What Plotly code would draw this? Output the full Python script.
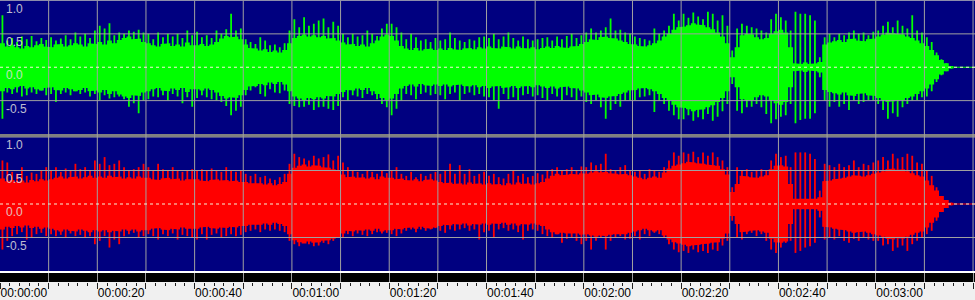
import plotly.graph_objects as go

# ---------------- data ----------------
# time axis (seconds) and its labels
tick_seconds = [0, 10, 20, 30, 40, 50, 60, 70, 80, 90, 100, 110, 120, 130, 140, 150, 160, 170, 180, 190, 200]
tick_labels = ["00:00:00", "", "00:00:20", "", "00:00:40", "", "00:01:00", "", "00:01:20", "",
               "00:01:40", "", "00:02:00", "", "00:02:20", "", "00:02:40", "", "00:03:00", "", ""]
x_end_s = 200.4
amp_tick_values = [1.0, 0.5, 0.0, -0.5]
amp_tick_labels = ["1.0", "0.5", "0.0", "-0.5"]

# dense "body" amplitude of each channel, per second (0..195 s)
green_body = [
    0.36, 0.31, 0.33, 0.30, 0.28, 0.32, 0.30, 0.33, 0.35, 0.31,
    0.30, 0.34, 0.35, 0.31, 0.33, 0.36, 0.34, 0.31, 0.36, 0.35,
    0.38, 0.34, 0.40, 0.36, 0.41, 0.44, 0.46, 0.42, 0.43, 0.38,
    0.36, 0.33, 0.31, 0.35, 0.36, 0.32, 0.34, 0.31, 0.37, 0.33,
    0.33, 0.35, 0.32, 0.34, 0.38, 0.43, 0.47, 0.45, 0.46, 0.42,
    0.34, 0.29, 0.28, 0.25, 0.27, 0.23, 0.25, 0.22, 0.26, 0.36,
    0.44, 0.47, 0.49, 0.46, 0.48, 0.45, 0.47, 0.43, 0.44, 0.40,
    0.37, 0.34, 0.35, 0.32, 0.34, 0.31, 0.36, 0.40, 0.46, 0.49,
    0.47, 0.40, 0.32, 0.28, 0.26, 0.29, 0.25, 0.27, 0.28, 0.26,
    0.28, 0.26, 0.29, 0.27, 0.26, 0.28, 0.29, 0.27, 0.30, 0.28,
    0.31, 0.29, 0.28, 0.31, 0.30, 0.28, 0.31, 0.29, 0.28, 0.30,
    0.27, 0.29, 0.31, 0.29, 0.32, 0.30, 0.29, 0.31, 0.32, 0.35,
    0.38, 0.42, 0.41, 0.45, 0.46, 0.44, 0.43, 0.40, 0.38, 0.35,
    0.34, 0.32, 0.31, 0.33, 0.36, 0.40, 0.46, 0.50, 0.56, 0.60,
    0.61, 0.63, 0.66, 0.64, 0.63, 0.60, 0.57, 0.52, 0.46, 0.36,
    0.15, 0.30, 0.48, 0.50, 0.49, 0.45, 0.42, 0.44, 0.50, 0.54,
    0.56, 0.52, 0.30, 0.06, 0.05, 0.07, 0.05, 0.06, 0.08, 0.34,
    0.37, 0.39, 0.41, 0.38, 0.42, 0.43, 0.40, 0.39, 0.42, 0.43,
    0.46, 0.49, 0.52, 0.51, 0.50, 0.49, 0.46, 0.44, 0.40, 0.36,
    0.32, 0.26, 0.18, 0.11, 0.06, 0.02]
red_body = [
    0.38, 0.34, 0.36, 0.33, 0.35, 0.32, 0.36, 0.34, 0.37, 0.35,
    0.37, 0.39, 0.41, 0.38, 0.40, 0.41, 0.38, 0.40, 0.42, 0.39,
    0.41, 0.39, 0.42, 0.40, 0.41, 0.38, 0.40, 0.38, 0.41, 0.39,
    0.39, 0.37, 0.36, 0.38, 0.39, 0.37, 0.38, 0.35, 0.37, 0.38,
    0.37, 0.35, 0.34, 0.36, 0.37, 0.35, 0.36, 0.34, 0.35, 0.33,
    0.33, 0.31, 0.30, 0.31, 0.29, 0.31, 0.28, 0.30, 0.33, 0.45,
    0.54, 0.57, 0.59, 0.56, 0.58, 0.57, 0.55, 0.54, 0.52, 0.50,
    0.44, 0.40, 0.41, 0.39, 0.40, 0.38, 0.40, 0.37, 0.41, 0.39,
    0.39, 0.37, 0.38, 0.36, 0.35, 0.37, 0.34, 0.36, 0.37, 0.35,
    0.33, 0.31, 0.32, 0.30, 0.31, 0.29, 0.32, 0.30, 0.31, 0.29,
    0.31, 0.29, 0.30, 0.28, 0.31, 0.29, 0.32, 0.30, 0.31, 0.29,
    0.31, 0.33, 0.38, 0.42, 0.45, 0.43, 0.44, 0.45, 0.44, 0.46,
    0.45, 0.47, 0.49, 0.47, 0.48, 0.46, 0.45, 0.44, 0.45, 0.43,
    0.41, 0.39, 0.37, 0.39, 0.41, 0.39, 0.47, 0.53, 0.57, 0.59,
    0.61, 0.63, 0.62, 0.61, 0.60, 0.59, 0.58, 0.57, 0.52, 0.44,
    0.18, 0.30, 0.42, 0.41, 0.40, 0.39, 0.41, 0.43, 0.52, 0.57,
    0.58, 0.56, 0.30, 0.08, 0.07, 0.08, 0.07, 0.08, 0.10, 0.34,
    0.35, 0.37, 0.38, 0.39, 0.41, 0.43, 0.42, 0.41, 0.43, 0.45,
    0.47, 0.49, 0.52, 0.53, 0.51, 0.52, 0.49, 0.46, 0.43, 0.41,
    0.35, 0.28, 0.20, 0.12, 0.06, 0.02]

# per-second peaks (max / min) of each channel, seconds 0..195
green_peak_up = [
    0.78, 0.40, 0.44, 0.38, 0.46, 0.42, 0.47, 0.39, 0.44, 0.41,
    0.45, 0.40, 0.43, 0.48, 0.42, 0.52, 0.46, 0.50, 0.44, 0.55,
    0.62, 0.58, 0.66, 0.48, 0.52, 0.50, 0.55, 0.53, 0.56, 0.52,
    0.50, 0.42, 0.52, 0.45, 0.50, 0.46, 0.50, 0.44, 0.55, 0.48,
    0.53, 0.45, 0.48, 0.44, 0.55, 0.50, 0.57, 0.80, 0.55, 0.58,
    0.42, 0.38, 0.35, 0.45, 0.40, 0.33, 0.34, 0.30, 0.36, 0.55,
    0.72, 0.60, 0.75, 0.62, 0.65, 0.70, 0.73, 0.60, 0.68, 0.62,
    0.50, 0.45, 0.50, 0.46, 0.48, 0.55, 0.50, 0.47, 0.58, 0.65,
    0.65, 0.60, 0.52, 0.42, 0.50, 0.45, 0.40, 0.42, 0.38, 0.44,
    0.40, 0.42, 0.52, 0.44, 0.40, 0.38, 0.42, 0.40, 0.45, 0.46,
    0.44, 0.50, 0.42, 0.46, 0.52, 0.44, 0.40, 0.46, 0.42, 0.40,
    0.42, 0.44, 0.45, 0.40, 0.46, 0.42, 0.47, 0.50, 0.44, 0.48,
    0.52, 0.58, 0.52, 0.55, 0.60, 0.73, 0.55, 0.56, 0.52, 0.50,
    0.46, 0.44, 0.42, 0.40, 0.58, 0.50, 0.55, 0.62, 0.80, 0.70,
    0.80, 0.74, 0.82, 0.76, 0.72, 0.83, 0.80, 0.70, 0.78, 0.62,
    0.25, 0.58, 0.65, 0.62, 0.60, 0.58, 0.55, 0.52, 0.72, 0.80,
    0.75, 0.70, 0.55, 0.83, 0.80, 0.80, 0.78, 0.70, 0.15, 0.45,
    0.50, 0.45, 0.50, 0.48, 0.52, 0.55, 0.50, 0.52, 0.48, 0.53,
    0.55, 0.62, 0.68, 0.60, 0.70, 0.62, 0.58, 0.78, 0.55, 0.52,
    0.45, 0.38, 0.22, 0.12, 0.06, 0.02]
green_peak_down = [
    -0.77, -0.38, -0.40, -0.38, -0.44, -0.42, -0.38, -0.40, -0.35, -0.42,
    -0.40, -0.52, -0.40, -0.38, -0.42, -0.36, -0.40, -0.38, -0.44, -0.40,
    -0.49, -0.42, -0.47, -0.45, -0.44, -0.48, -0.59, -0.54, -0.69, -0.50,
    -0.48, -0.44, -0.45, -0.42, -0.50, -0.40, -0.44, -0.54, -0.45, -0.59,
    -0.46, -0.42, -0.45, -0.48, -0.50, -0.52, -0.58, -0.72, -0.65, -0.59,
    -0.42, -0.35, -0.30, -0.40, -0.44, -0.33, -0.38, -0.39, -0.35, -0.55,
    -0.58, -0.60, -0.59, -0.56, -0.64, -0.60, -0.59, -0.62, -0.64, -0.58,
    -0.45, -0.50, -0.42, -0.44, -0.46, -0.40, -0.42, -0.48, -0.55, -0.60,
    -0.72, -0.62, -0.50, -0.40, -0.42, -0.48, -0.40, -0.38, -0.42, -0.40,
    -0.42, -0.48, -0.40, -0.38, -0.49, -0.40, -0.38, -0.42, -0.40, -0.44,
    -0.45, -0.50, -0.62, -0.40, -0.48, -0.45, -0.49, -0.42, -0.40, -0.44,
    -0.42, -0.46, -0.49, -0.40, -0.44, -0.49, -0.42, -0.45, -0.49, -0.44,
    -0.52, -0.55, -0.50, -0.60, -0.77, -0.64, -0.55, -0.59, -0.50, -0.49,
    -0.49, -0.45, -0.44, -0.42, -0.67, -0.50, -0.55, -0.65, -0.72, -0.78,
    -0.78, -0.72, -0.80, -0.75, -0.78, -0.70, -0.80, -0.74, -0.66, -0.55,
    -0.25, -0.65, -0.69, -0.60, -0.59, -0.55, -0.60, -0.70, -0.84, -0.78,
    -0.74, -0.72, -0.55, -0.84, -0.79, -0.77, -0.77, -0.69, -0.15, -0.50,
    -0.59, -0.52, -0.59, -0.55, -0.64, -0.50, -0.55, -0.52, -0.49, -0.50,
    -0.55, -0.64, -0.77, -0.69, -0.74, -0.60, -0.55, -0.50, -0.49, -0.45,
    -0.44, -0.36, -0.22, -0.12, -0.06, -0.02]
red_peak_up = [
    0.65, 0.62, 0.48, 0.45, 0.55, 0.42, 0.47, 0.45, 0.50, 0.55,
    0.50, 0.55, 0.48, 0.53, 0.50, 0.60, 0.52, 0.55, 0.50, 0.65,
    0.60, 0.70, 0.58, 0.60, 0.65, 0.55, 0.50, 0.52, 0.55, 0.60,
    0.55, 0.50, 0.60, 0.52, 0.50, 0.55, 0.50, 0.48, 0.50, 0.52,
    0.50, 0.52, 0.50, 0.53, 0.50, 0.48, 0.55, 0.50, 0.48, 0.50,
    0.45, 0.42, 0.45, 0.40, 0.42, 0.38, 0.36, 0.40, 0.45, 0.60,
    0.75, 0.70, 0.68, 0.65, 0.72, 0.68, 0.70, 0.74, 0.65, 0.72,
    0.62, 0.55, 0.50, 0.48, 0.45, 0.50, 0.48, 0.45, 0.50, 0.46,
    0.50, 0.55, 0.45, 0.42, 0.48, 0.40, 0.45, 0.42, 0.45, 0.48,
    0.45, 0.50, 0.60, 0.45, 0.58, 0.45, 0.52, 0.42, 0.45, 0.48,
    0.42, 0.45, 0.40, 0.38, 0.45, 0.50, 0.42, 0.45, 0.40, 0.42,
    0.46, 0.44, 0.50, 0.52, 0.55, 0.50, 0.52, 0.55, 0.50, 0.56,
    0.55, 0.62, 0.58, 0.60, 0.75, 0.52, 0.50, 0.55, 0.58, 0.50,
    0.48, 0.50, 0.45, 0.52, 0.50, 0.48, 0.55, 0.65, 0.77, 0.72,
    0.77, 0.75, 0.78, 0.70, 0.77, 0.72, 0.77, 0.70, 0.65, 0.55,
    0.25, 0.55, 0.50, 0.52, 0.48, 0.50, 0.52, 0.50, 0.65, 0.75,
    0.70, 0.72, 0.55, 0.77, 0.77, 0.77, 0.75, 0.67, 0.20, 0.60,
    0.58, 0.55, 0.60, 0.55, 0.58, 0.65, 0.55, 0.60, 0.58, 0.62,
    0.65, 0.70, 0.65, 0.75, 0.68, 0.70, 0.75, 0.72, 0.62, 0.60,
    0.50, 0.42, 0.25, 0.12, 0.06, 0.02]
red_peak_down = [
    -0.68, -0.55, -0.48, -0.45, -0.42, -0.53, -0.50, -0.45, -0.43, -0.48,
    -0.45, -0.48, -0.46, -0.50, -0.44, -0.48, -0.46, -0.50, -0.48, -0.60,
    -0.55, -0.48, -0.65, -0.53, -0.60, -0.48, -0.45, -0.43, -0.50, -0.48,
    -0.45, -0.48, -0.53, -0.45, -0.48, -0.44, -0.53, -0.46, -0.48, -0.50,
    -0.53, -0.45, -0.53, -0.46, -0.44, -0.50, -0.48, -0.45, -0.48, -0.46,
    -0.42, -0.40, -0.38, -0.42, -0.38, -0.40, -0.38, -0.40, -0.42, -0.55,
    -0.60, -0.63, -0.58, -0.60, -0.63, -0.62, -0.58, -0.60, -0.55, -0.50,
    -0.50, -0.45, -0.48, -0.44, -0.46, -0.48, -0.45, -0.42, -0.44, -0.43,
    -0.45, -0.48, -0.44, -0.40, -0.38, -0.42, -0.38, -0.40, -0.38, -0.36,
    -0.40, -0.43, -0.38, -0.40, -0.38, -0.36, -0.40, -0.38, -0.53, -0.42,
    -0.40, -0.50, -0.38, -0.36, -0.40, -0.38, -0.42, -0.53, -0.40, -0.38,
    -0.40, -0.45, -0.48, -0.50, -0.45, -0.58, -0.52, -0.50, -0.55, -0.60,
    -0.55, -0.68, -0.55, -0.50, -0.68, -0.55, -0.50, -0.48, -0.53, -0.52,
    -0.48, -0.53, -0.45, -0.48, -0.43, -0.45, -0.50, -0.60, -0.68, -0.72,
    -0.70, -0.73, -0.68, -0.72, -0.70, -0.73, -0.68, -0.70, -0.62, -0.55,
    -0.25, -0.50, -0.53, -0.45, -0.43, -0.48, -0.45, -0.55, -0.68, -0.73,
    -0.65, -0.58, -0.55, -0.73, -0.70, -0.65, -0.63, -0.58, -0.20, -0.53,
    -0.50, -0.53, -0.48, -0.55, -0.58, -0.52, -0.55, -0.50, -0.53, -0.55,
    -0.55, -0.62, -0.60, -0.70, -0.65, -0.62, -0.70, -0.60, -0.55, -0.50,
    -0.45, -0.40, -0.25, -0.12, -0.06, -0.02]

# ---------------- styling ----------------
NAVY = "#000080"
GRID = "#a0a0a0"
FONT = "Liberation Sans"
H = 300.0
TOP_DOM = [1 - 134 / H, 1 - 0.5 / H]
BOT_DOM = [1 - 271 / H, 1 - 137 / H]
BAND_DOM = [1 - 282 / H, 1 - 273 / H]


def channel_traces(body, up, down, color, xa, ya):
    traces = []
    n = len(body)
    # body drawn as a stair-stepped polygon (one step per second)
    ex, ey = [], []
    for i, b in enumerate(body):
        ex += [i, i + 1]
        ey += [b, b]
    xs = ex + ex[::-1]
    ys = ey + [-v for v in ey[::-1]]
    traces.append(go.Scatter(x=xs, y=ys, fill="toself", fillcolor=color, mode="lines",
                             line=dict(width=0, color=color), xaxis=xa, yaxis=ya,
                             hoverinfo="skip", showlegend=False))
    sx, sy = [], []
    for i, (u, d) in enumerate(zip(up, down)):
        t = i + 0.5
        sx += [t, t, None]
        sy += [d, u, None]
    traces.append(go.Scatter(x=sx, y=sy, mode="lines", line=dict(width=1.8, color=color),
                             xaxis=xa, yaxis=ya, hoverinfo="skip", showlegend=False))
    # silence after the end of the audio
    traces.append(go.Scatter(x=[len(up), x_end_s], y=[0, 0], mode="lines",
                             line=dict(width=1, color=color), xaxis=xa, yaxis=ya,
                             hoverinfo="skip", showlegend=False))
    return traces


fig = go.Figure()
for tr in channel_traces(green_body, green_peak_up, green_peak_down, "#00ff00", "x", "y"):
    fig.add_trace(tr)
for tr in channel_traces(red_body, red_peak_up, red_peak_down, "#ff0000", "x2", "y2"):
    fig.add_trace(tr)
# invisible trace that carries the time ruler axis
fig.add_trace(go.Scatter(x=[tick_seconds[0]], y=[0.5], mode="markers", marker=dict(opacity=0),
                         xaxis="x3", yaxis="y3", hoverinfo="skip", showlegend=False))

hidden_x = dict(range=[0, x_end_s], showgrid=False, zeroline=False, showticklabels=False,
                ticks="", showline=False, fixedrange=True)
hidden_y = dict(range=[-1, 1], showgrid=False, zeroline=False, showticklabels=False,
                ticks="", showline=False, fixedrange=True)

shapes = []
# black band + white strip + panel separator
shapes.append(dict(type="rect", xref="paper", yref="paper", x0=0, x1=1, y0=BAND_DOM[0], y1=BAND_DOM[1],
                   fillcolor="#000000", line=dict(width=0), layer="below"))
shapes.append(dict(type="rect", xref="paper", yref="paper", x0=0, x1=1, y0=BAND_DOM[1], y1=BOT_DOM[0],
                   fillcolor="#ffffff", line=dict(width=0), layer="below"))
shapes.append(dict(type="rect", xref="paper", yref="paper", x0=0, x1=1, y0=BOT_DOM[1], y1=TOP_DOM[0],
                   fillcolor="#808080", line=dict(width=0), layer="above"))
# vertical grid lines (drawn over the waveform)
for t in tick_seconds[1:]:
    shapes.append(dict(type="line", xref="x", yref="paper", x0=t, x1=t, y0=BOT_DOM[0], y1=TOP_DOM[1],
                       line=dict(color=GRID, width=1), layer="above"))
# horizontal grid lines and dashed centre lines
for yref in ["y", "y2"]:
    for v in amp_tick_values:
        if v == 0.0:
            shapes.append(dict(type="line", xref="paper", yref=yref, x0=0, x1=1, y0=v, y1=v,
                               line=dict(color="#f4f4d8", width=1, dash="3px,3px"), layer="above"))
        else:
            shapes.append(dict(type="line", xref="paper", yref=yref, x0=0, x1=1, y0=v, y1=v,
                               line=dict(color=GRID, width=1), layer="above"))

annotations = []
for yref in ["y", "y2"]:
    for v, lab in zip(amp_tick_values, amp_tick_labels):
        annotations.append(dict(text=lab, xref="paper", yref=yref, x=5 / 975, y=v,
                                xanchor="left", yanchor="top", showarrow=False,
                                font=dict(family=FONT, size=12, color="rgba(225,225,225,0.85)"),
                                borderpad=0))

fig.update_layout(
    width=975, height=300,
    margin=dict(l=0, r=0, t=0, b=0),
    paper_bgcolor="#f0f0f0", plot_bgcolor=NAVY,
    showlegend=False,
    xaxis=dict(hidden_x, anchor="y"),
    yaxis=dict(hidden_y, domain=TOP_DOM, anchor="x"),
    xaxis2=dict(hidden_x, anchor="y2"),
    yaxis2=dict(hidden_y, domain=BOT_DOM, anchor="x2"),
    xaxis3=dict(range=[0, x_end_s], anchor="y3", showgrid=True, gridcolor=GRID, gridwidth=1,
                zeroline=False, showline=False, fixedrange=True,
                tickmode="array", tickvals=tick_seconds, ticktext=tick_labels,
                ticks="outside", ticklen=6, tickwidth=1, tickcolor="#202020",
                ticklabelposition="outside right",
                tickfont=dict(family=FONT, size=12, color="#000000"),
                minor=dict(tickmode="linear", tick0=0, dtick=2, ticks="outside", ticklen=3,
                           tickwidth=1, tickcolor="#202020", showgrid=False)),
    yaxis3=dict(domain=BAND_DOM, range=[0, 1], visible=False, fixedrange=True, anchor="x3"),
    shapes=shapes,
    annotations=annotations,
)

fig.write_html("out.html")
